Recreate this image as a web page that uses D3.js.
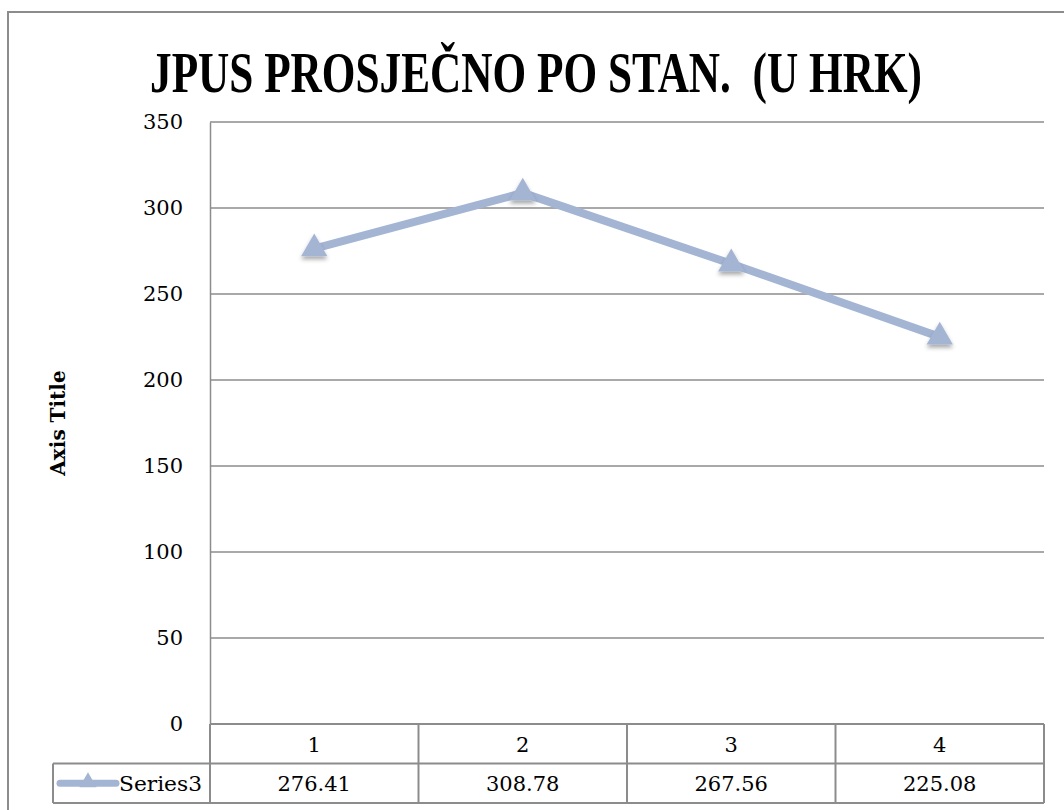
<!doctype html>
<html>
<head>
<meta charset="utf-8">
<script src="https://d3js.org/d3.v7.min.js"></script>
<style>
  body { margin: 0; background: #fff; }
  text { font-family: "DejaVu Serif", "Liberation Serif", serif; fill: #000; }
</style>
</head>
<body>
<svg id="chart" width="1064" height="810"></svg>
<script>
// data
var categories = ["1", "2", "3", "4"];
var seriesName = "Series3";
var values = [276.41, 308.78, 267.56, 225.08];
var yTicks = [0, 50, 100, 150, 200, 250, 300, 350];
var titleText = "JPUS PROSJEČNO PO STAN.  (U HRK)";

var svg = d3.select("#chart");
var lineColor = "#a4b5d4",
    gridColor = "#8c8c8c";

var plotLeft = 210, plotRight = 1044, plotTop = 122, plotBottom = 724;
var rowH = 39.5;

var x = d3.scaleBand().domain(categories).range([plotLeft, plotRight]).padding(0);
var y = d3.scaleLinear().domain([0, 350]).range([plotBottom, plotTop]);

// shadow for the markers
var defs = svg.append("defs");
var f = defs.append("filter").attr("id", "shadow")
  .attr("x", "-50%").attr("y", "-50%").attr("width", "200%").attr("height", "200%");
f.append("feDropShadow").attr("dx", 0).attr("dy", 3).attr("stdDeviation", 2)
  .attr("flood-color", "#000").attr("flood-opacity", 0.35);

// outer chart frame (only top and left show)
svg.append("path")
  .attr("d", "M8,810 L8,12 L1064,12")
  .attr("fill", "none").attr("stroke", gridColor).attr("stroke-width", 2);

// title
svg.append("text")
  .attr("x", 150).attr("y", 92)
  .style("font-family", "'Liberation Serif', serif")
  .attr("font-size", "57px").attr("font-weight", "bold")
  .attr("textLength", 772).attr("lengthAdjust", "spacingAndGlyphs")
  .style("white-space", "pre")
  .text(titleText);

// gridlines
svg.append("g").selectAll("line")
  .data(yTicks)
  .enter().append("line")
  .attr("x1", plotLeft).attr("x2", plotRight)
  .attr("y1", function(d) { return y(d); })
  .attr("y2", function(d) { return y(d); })
  .attr("stroke", gridColor).attr("stroke-width", 1.5);

// y axis
var yAxis = svg.append("g")
  .attr("transform", "translate(" + plotLeft + ",0)")
  .call(d3.axisLeft(y).tickValues(yTicks).tickSize(0).tickPadding(27));
yAxis.select(".domain").attr("stroke", gridColor).attr("stroke-width", 1.5);
yAxis.selectAll("text").attr("font-size", "21px").attr("fill", "#000");

// axis title
svg.append("text")
  .attr("transform", "translate(65," + ((plotTop + plotBottom) / 2) + ") rotate(-90)")
  .attr("text-anchor", "middle")
  .attr("font-size", "20px").attr("font-weight", "bold")
  .text("Axis Title");

// data table
var table = svg.append("g");
var legendLeft = 53;
table.append("line").attr("x1", legendLeft).attr("x2", plotRight)
  .attr("y1", plotBottom + rowH).attr("y2", plotBottom + rowH)
  .attr("stroke", gridColor).attr("stroke-width", 2);
table.append("line").attr("x1", legendLeft).attr("x2", plotRight)
  .attr("y1", plotBottom + 2 * rowH).attr("y2", plotBottom + 2 * rowH)
  .attr("stroke", gridColor).attr("stroke-width", 2);
table.append("line").attr("x1", plotLeft).attr("x2", plotRight)
  .attr("y1", plotBottom).attr("y2", plotBottom)
  .attr("stroke", gridColor).attr("stroke-width", 2);
table.append("line").attr("x1", legendLeft).attr("x2", legendLeft)
  .attr("y1", plotBottom + rowH).attr("y2", plotBottom + 2 * rowH)
  .attr("stroke", gridColor).attr("stroke-width", 2);
var colEdges = categories.map(function(c) { return x(c); }).concat([plotRight]);
table.selectAll(".col").data(colEdges).enter().append("line")
  .attr("x1", function(d) { return d; }).attr("x2", function(d) { return d; })
  .attr("y1", plotBottom).attr("y2", plotBottom + 2 * rowH)
  .attr("stroke", gridColor).attr("stroke-width", 2);

table.selectAll(".cat").data(categories).enter().append("text")
  .attr("x", function(d) { return x(d) + x.bandwidth() / 2; })
  .attr("y", plotBottom + rowH / 2 + 8)
  .attr("text-anchor", "middle").attr("font-size", "21px")
  .text(function(d) { return d; });
table.selectAll(".val").data(values).enter().append("text")
  .attr("x", function(d, i) { return x(categories[i]) + x.bandwidth() / 2; })
  .attr("y", plotBottom + rowH * 1.5 + 8)
  .attr("text-anchor", "middle").attr("font-size", "21px")
  .text(function(d) { return d.toFixed(2); });

// legend key inside table
var ly = plotBottom + rowH * 1.5;
table.append("line").attr("x1", 60).attr("x2", 116).attr("y1", ly).attr("y2", ly)
  .attr("stroke", lineColor).attr("stroke-width", 7).attr("stroke-linecap", "round");
table.append("path")
  .attr("d", d3.symbol().type(d3.symbolTriangle).size(130)())
  .attr("transform", "translate(88," + (ly - 1) + ")")
  .attr("fill", lineColor);
table.append("text").attr("x", 119).attr("y", ly + 8)
  .attr("font-size", "21px").attr("textLength", 83).attr("lengthAdjust", "spacingAndGlyphs")
  .text(seriesName);

// series line
var line = d3.line()
  .x(function(d, i) { return x(categories[i]) + x.bandwidth() / 2; })
  .y(function(d) { return y(d); });
svg.append("path").datum(values)
  .attr("d", line)
  .attr("fill", "none").attr("stroke", lineColor)
  .attr("stroke-width", 8).attr("stroke-linejoin", "round");

// markers
svg.append("g").selectAll("path")
  .data(values)
  .enter().append("path")
  .attr("d", d3.symbol().type(d3.symbolTriangle).size(300)())
  .attr("transform", function(d, i) {
    return "translate(" + (x(categories[i]) + x.bandwidth() / 2) + "," + y(d) + ")";
  })
  .attr("fill", lineColor)
  .attr("filter", "url(#shadow)");
</script>
</body>
</html>
